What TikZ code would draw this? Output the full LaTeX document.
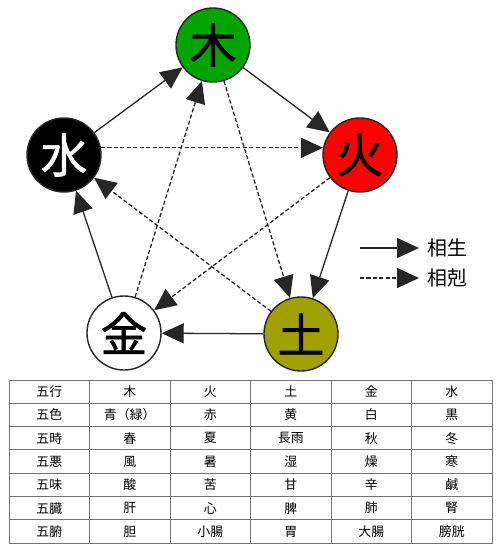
\documentclass[tikz,border=0pt]{standalone}
\usepackage{fontspec}
\setmainfont{Noto Sans CJK JP}
\newfontfamily\elemfont[FakeBold=1.2]{Noto Sans CJK JP}
\usetikzlibrary{arrows.meta}
\definecolor{wood}{RGB}{0,165,0}
\definecolor{fire}{RGB}{255,0,0}
\definecolor{earth}{RGB}{160,160,0}
\begin{document}
\begin{tikzpicture}[
  x=0.03cm, y=-0.03cm,
  >={Triangle[length=0.66cm,width=0.6cm]},
  elem/.style={circle, draw=black!85, line width=1.2pt, minimum size=2.22cm,
               inner sep=0pt, font=\elemfont\fontsize{40}{40}\selectfont},
  sheng/.style={->, line width=1.1pt, draw=black!85},
  ke/.style={->, line width=1.1pt, draw=black!85, dash pattern=on 3.5pt off 2pt},
  cell/.style={rectangle, draw=black!55, line width=0.8pt, minimum width=2.415cm,
               minimum height=0.699cm, inner sep=0pt, font=\fontsize{11}{11}\selectfont},
  legendtext/.style={anchor=west, inner sep=0pt, font=\fontsize{17}{17}\selectfont}
]
\useasboundingbox (0,0) rectangle (500,556);

\node[elem, fill=wood]            (moku) at (213,45)  {木};
\node[elem, fill=fire]            (ka)   at (360,155) {火};
\node[elem, fill=earth]           (do)   at (301,334) {土};
\node[elem, fill=white]           (kin)  at (124,333) {金};
\node[elem, fill=black, text=white] (sui) at (64,155)  {水};

\draw[sheng] (sui) -- (moku);
\draw[sheng] (moku) -- (ka);
\draw[sheng] (ka) -- (do);
\draw[sheng] (do) -- (kin);
\draw[sheng] (kin) -- (sui);

\draw[ke] (sui.11) -- (ka.169);
\draw[ke] (moku) -- (do);
\draw[ke] (ka) -- (kin);
\draw[ke] (do) -- (sui);
\draw[ke] (kin) -- (moku);

\coordinate (l1s) at (360,248);
\coordinate (l1e) at (419,248);
\coordinate (l2s) at (360,278);
\coordinate (l2e) at (419,278);
\draw[sheng] (l1s) -- (l1e);
\draw[ke] (l2s) -- (l2e);
\node[legendtext] (lsheng) at (427,248) {相生};
\node[legendtext] (lke)    at (427,278) {相剋};

\foreach \row [count=\r] in {{五行,木,火,土,金,水},{五色,青（緑）,赤,黄,白,黒},
    {五時,春,夏,長雨,秋,冬},{五悪,風,暑,湿,燥,寒},{五味,酸,苦,甘,辛,鹹},
    {五臓,肝,心,脾,肺,腎},{五腑,胆,小腸,胃,大腸,膀胱}} {
  \foreach \txt [count=\c] in \row {
    \node[cell] (t\r-\c) at ({9+80.5*(\c-1)+40.25},{380+23.3*(\r-1)+11.65}) {\txt};
  }
}
\end{tikzpicture}
\end{document}
